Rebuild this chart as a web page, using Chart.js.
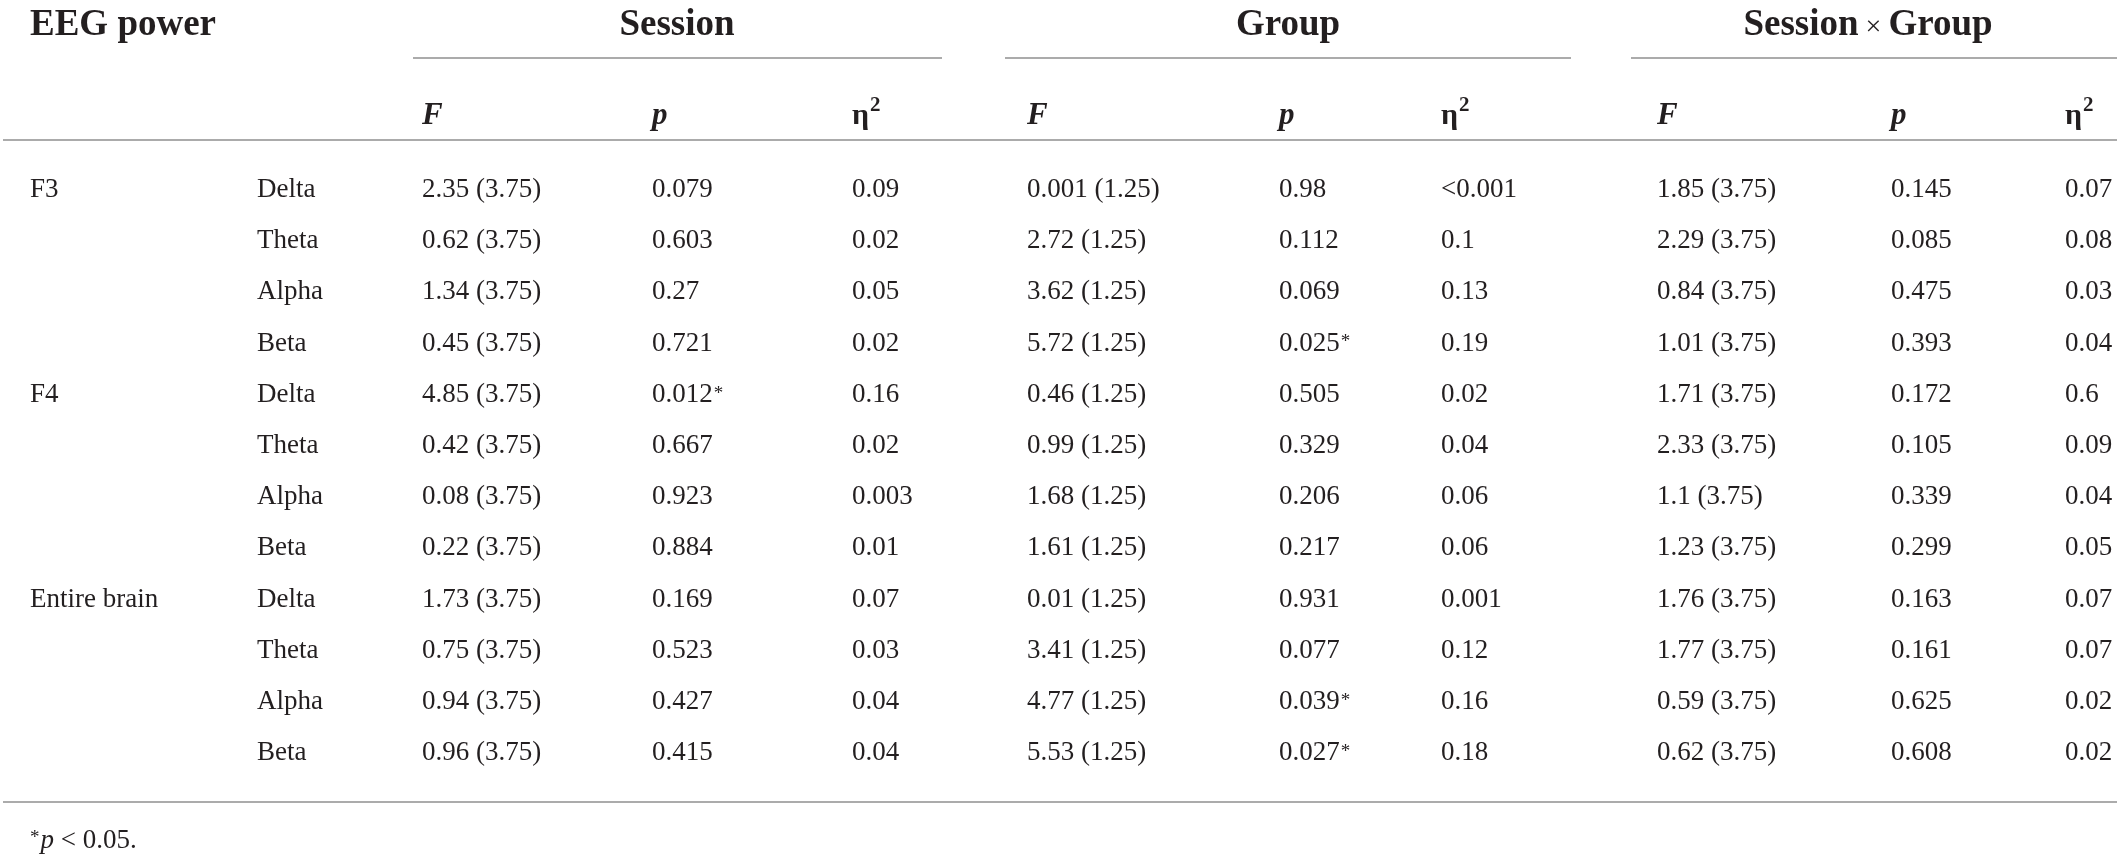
<!DOCTYPE html>
<html>
<head>
<meta charset="utf-8">
<script src="https://cdn.jsdelivr.net/npm/chart.js@4.4.1/dist/chart.umd.min.js"></script>
<style>
  html, body { margin: 0; padding: 0; background: #fff; overflow: hidden; }
  #wrap { width: 2117px; height: 855px; position: relative; }
</style>
</head>
<body>
<div id="wrap"><canvas id="eeg-table"></canvas></div>
<script>
// table content
const regions = ['F3', 'F4', 'Entire brain'];
const bands = ['Delta', 'Theta', 'Alpha', 'Beta'];
const effects = ['Session', 'Group', 'Session \u00d7 Group'];
const statHeads = ['F', 'p', '\u03b7'];

const sessionF = ['2.35 (3.75)', '0.62 (3.75)', '1.34 (3.75)', '0.45 (3.75)', '4.85 (3.75)', '0.42 (3.75)',
  '0.08 (3.75)', '0.22 (3.75)', '1.73 (3.75)', '0.75 (3.75)', '0.94 (3.75)', '0.96 (3.75)'];
const sessionP = ['0.079', '0.603', '0.27', '0.721', '0.012*', '0.667', '0.923', '0.884', '0.169', '0.523', '0.427', '0.415'];
const sessionEta = ['0.09', '0.02', '0.05', '0.02', '0.16', '0.02', '0.003', '0.01', '0.07', '0.03', '0.04', '0.04'];

const groupF = ['0.001 (1.25)', '2.72 (1.25)', '3.62 (1.25)', '5.72 (1.25)', '0.46 (1.25)', '0.99 (1.25)',
  '1.68 (1.25)', '1.61 (1.25)', '0.01 (1.25)', '3.41 (1.25)', '4.77 (1.25)', '5.53 (1.25)'];
const groupP = ['0.98', '0.112', '0.069', '0.025*', '0.505', '0.329', '0.206', '0.217', '0.931', '0.077', '0.039*', '0.027*'];
const groupEta = ['<0.001', '0.1', '0.13', '0.19', '0.02', '0.04', '0.06', '0.06', '0.001', '0.12', '0.16', '0.18'];

const sxgF = ['1.85 (3.75)', '2.29 (3.75)', '0.84 (3.75)', '1.01 (3.75)', '1.71 (3.75)', '2.33 (3.75)',
  '1.1 (3.75)', '1.23 (3.75)', '1.76 (3.75)', '1.77 (3.75)', '0.59 (3.75)', '0.62 (3.75)'];
const sxgP = ['0.145', '0.085', '0.475', '0.393', '0.172', '0.105', '0.339', '0.299', '0.163', '0.161', '0.625', '0.608'];
const sxgEta = ['0.07', '0.08', '0.03', '0.04', '0.6', '0.09', '0.04', '0.05', '0.07', '0.07', '0.02', '0.02'];

const footnote = ['*', 'p', ' < 0.05.'];

// layout (x in px along the x scale, y in row units along the y scale)
const colX = [30, 257, 422, 652, 852, 1027, 1279, 1441, 1657, 1891, 2065];
const spanX = [[413, 942], [1005, 1571], [1631, 2117]];
const labelX = [677, 1288, 1868];
const ROW_TITLE = -3.164, ROW_SPAN = -2.715, ROW_SUB = -1.42, ROW_RULE_TOP = -1.113,
  ROW_RULE_BOT = 11.816, ROW_NOTE = 12.715;
const FAM = '"Liberation Serif", "DejaVu Serif", serif';
const INK = '#231f20';
const RULE = '#ababab';
const HEAD = 37, BODY = 27;

const columns = [sessionF, sessionP, sessionEta, groupF, groupP, groupEta, sxgF, sxgP, sxgEta];

function drawWithStar(ctx, txt, px, py, size) {
  const star = txt.endsWith('*');
  const base = star ? txt.slice(0, -1) : txt;
  ctx.font = `${size}px ${FAM}`;
  ctx.fillText(base, px, py);
  if (star) {
    const w = ctx.measureText(base).width;
    ctx.font = `${Math.round(size * 0.72)}px ${FAM}`;
    ctx.fillText('*', px + w + 1, py - size * 0.12);
  }
}

const tablePlugin = {
  id: 'tablePlugin',
  afterDraw(chart) {
    const ctx = chart.ctx;
    const xs = chart.scales.x, ys = chart.scales.y;
    const X = v => xs.getPixelForValue(v);
    const Y = v => ys.getPixelForValue(v);
    ctx.save();
    ctx.textBaseline = 'alphabetic';
    ctx.fillStyle = INK;

    // title row
    ctx.textAlign = 'left';
    ctx.font = `bold ${HEAD}px ${FAM}`;
    ctx.fillText('EEG power', X(colX[0]), Y(ROW_TITLE));

    effects.forEach((name, i) => {
      const [a, b] = spanX[i];
      const cx = X(labelX[i]);
      const parts = name.split(' \u00d7 ');
      if (parts.length === 2) {
        ctx.font = `bold ${HEAD}px ${FAM}`;
        const w1 = ctx.measureText(parts[0]).width;
        const w2 = ctx.measureText(parts[1]).width;
        ctx.font = `28px ${FAM}`;
        const wx = ctx.measureText(' \u00d7 ').width;
        let px = cx - (w1 + wx + w2) / 2;
        ctx.font = `bold ${HEAD}px ${FAM}`;
        ctx.fillText(parts[0], px, Y(ROW_TITLE));
        px += w1;
        ctx.font = `28px ${FAM}`;
        ctx.fillText(' \u00d7 ', px, Y(ROW_TITLE));
        px += wx;
        ctx.font = `bold ${HEAD}px ${FAM}`;
        ctx.fillText(parts[1], px, Y(ROW_TITLE));
      } else {
        ctx.font = `bold ${HEAD}px ${FAM}`;
        ctx.textAlign = 'center';
        ctx.fillText(name, cx, Y(ROW_TITLE));
        ctx.textAlign = 'left';
      }
      // spanner line
      ctx.strokeStyle = RULE;
      ctx.lineWidth = 2;
      ctx.beginPath();
      ctx.moveTo(X(a), Y(ROW_SPAN));
      ctx.lineTo(X(b), Y(ROW_SPAN));
      ctx.stroke();
    });

    // sub headers F, p, eta^2
    for (let g = 0; g < 3; g++) {
      statHeads.forEach((h, k) => {
        const px = X(colX[2 + g * 3 + k]);
        if (h === '\u03b7') {
          ctx.font = `bold 30px ${FAM}`;
          ctx.fillText(h, px, Y(ROW_SUB));
          const w = ctx.measureText(h).width;
          ctx.font = `bold 21px ${FAM}`;
          ctx.fillText('2', px + w + 1, Y(ROW_SUB) - 13);
        } else {
          ctx.font = `italic bold 31px ${FAM}`;
          ctx.fillText(h, px, Y(ROW_SUB));
        }
      });
    }

    // rules
    ctx.strokeStyle = RULE;
    ctx.lineWidth = 2;
    [ROW_RULE_TOP, ROW_RULE_BOT].forEach(r => {
      ctx.beginPath();
      ctx.moveTo(X(3), Y(r));
      ctx.lineTo(X(2117), Y(r));
      ctx.stroke();
    });

    // body
    ctx.fillStyle = INK;
    for (let r = 0; r < regions.length * bands.length; r++) {
      const py = Y(r);
      ctx.font = `${BODY}px ${FAM}`;
      if (r % bands.length === 0) ctx.fillText(regions[r / bands.length], X(colX[0]), py);
      ctx.fillText(bands[r % bands.length], X(colX[1]), py);
      columns.forEach((col, c) => drawWithStar(ctx, col[r], X(colX[2 + c]), py, BODY));
    }

    // footnote
    let fx = X(colX[0]);
    const fy = Y(ROW_NOTE);
    ctx.font = `19px ${FAM}`;
    ctx.fillText(footnote[0], fx, fy - 5);
    fx += ctx.measureText(footnote[0]).width + 1;
    ctx.font = `italic 27px ${FAM}`;
    ctx.fillText(footnote[1], fx, fy);
    fx += ctx.measureText(footnote[1]).width;
    ctx.font = `27px ${FAM}`;
    ctx.fillText(footnote[2], fx, fy);

    ctx.restore();
  }
};

new Chart(document.getElementById('eeg-table').getContext('2d'), {
  type: 'scatter',
  data: { datasets: [] },
  options: {
    responsive: true,
    maintainAspectRatio: false,
    animation: false,
    layout: { padding: 0 },
    plugins: { legend: { display: false }, tooltip: { enabled: false } },
    scales: {
      x: { type: 'linear', display: false, min: 0, max: 2117 },
      y: { type: 'linear', display: false, reverse: true, min: -3.848, max: 12.852 }
    }
  },
  plugins: [tablePlugin]
});
</script>
</body>
</html>
